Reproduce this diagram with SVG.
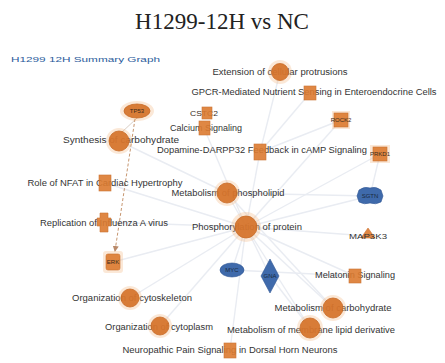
<svg xmlns="http://www.w3.org/2000/svg" width="445" height="363" viewBox="0 0 445 363">
<defs>
<style>
.title{font-family:"Liberation Serif",serif;font-size:23px;fill:#222}
.sub{font-family:"Liberation Sans",Arial,sans-serif;font-size:8px;fill:#2b5c9c}
.lbl{font-family:"Liberation Sans",Arial,sans-serif;font-size:8.5px;fill:#333;text-anchor:middle}
.gene{font-family:"Liberation Sans",Arial,sans-serif;font-size:6px;fill:#3a2a1a;text-anchor:middle}
.edge{stroke:#e9ecf2;stroke-width:1.4;fill:none}
.halo{fill:#f2b37a;opacity:0.3}
.fn{fill:#d6732a;stroke:#c4621a;stroke-width:0.8;opacity:0.92}
.pw{fill:#dc7b30;stroke:#c7651e;stroke-width:0.6;opacity:0.9}
.blue{fill:#3f6aab;stroke:#2f5593;stroke-width:0.6}
</style>
<marker id="ah" markerWidth="6" markerHeight="6" refX="5" refY="3" orient="auto" markerUnits="userSpaceOnUse">
<path d="M0,0 L6,3 L0,6 z" fill="#b98a6a"/>
</marker>
</defs>
<rect width="445" height="363" fill="#fff"/>
<text class="title" x="222" y="29" text-anchor="middle">H1299-12H vs NC</text>
<text class="sub" x="11" y="62" textLength="149" lengthAdjust="spacingAndGlyphs">H1299 12H Summary Graph</text>

<g id="connectors">
<line class="edge" x1="246" y1="227" x2="227" y2="193"/>
<line class="edge" x1="246" y1="227" x2="260" y2="152"/>
<line class="edge" x1="246" y1="227" x2="204" y2="128"/>
<line class="edge" x1="246" y1="227" x2="341" y2="120"/>
<line class="edge" x1="246" y1="227" x2="380" y2="154"/>
<line class="edge" x1="246" y1="227" x2="370" y2="196"/>
<line class="edge" x1="246" y1="227" x2="368" y2="236"/>
<line class="edge" x1="246" y1="227" x2="355" y2="276"/>
<line class="edge" x1="246" y1="227" x2="333" y2="308"/>
<line class="edge" x1="246" y1="227" x2="310" y2="328"/>
<line class="edge" x1="246" y1="227" x2="230" y2="350"/>
<line class="edge" x1="246" y1="227" x2="160" y2="326"/>
<line class="edge" x1="246" y1="227" x2="130" y2="298"/>
<line class="edge" x1="246" y1="227" x2="232" y2="270"/>
<line class="edge" x1="246" y1="227" x2="270" y2="276"/>
<line class="edge" x1="246" y1="227" x2="104" y2="222"/>
<line class="edge" x1="246" y1="227" x2="105" y2="183"/>
<line class="edge" x1="246" y1="227" x2="113" y2="262"/>
<line class="edge" x1="227" y1="193" x2="370" y2="196"/>
<line class="edge" x1="280" y1="72" x2="260" y2="152"/>
<line class="edge" x1="310" y1="93" x2="260" y2="152"/>
<line class="edge" x1="380" y1="154" x2="370" y2="196"/>
<line class="edge" x1="341" y1="120" x2="260" y2="152"/>
<line class="edge" x1="227" y1="193" x2="119" y2="141"/>
<line class="edge" x1="227" y1="193" x2="333" y2="308"/>
<line class="edge" x1="232" y1="270" x2="355" y2="276"/>
<line class="edge" x1="270" y1="276" x2="310" y2="328"/>
<line x1="137" y1="118" x2="121" y2="133" stroke="#cfc2b6" stroke-width="0.8"/>
<line x1="135" y1="119" x2="115" y2="251" stroke="#c08a60" stroke-width="0.9" stroke-dasharray="3,2" marker-end="url(#ah)"/>
</g>

<g id="n-extension"><text class="lbl" x="280" y="75" textLength="135" lengthAdjust="spacingAndGlyphs">Extension of cellular protrusions</text><circle class="halo" cx="280" cy="72" r="12"/><circle class="fn" cx="280" cy="72" r="8.5"/></g>
<g id="n-gpcr"><text class="lbl" x="314" y="95" textLength="245" lengthAdjust="spacingAndGlyphs">GPCR-Mediated Nutrient Sensing in Enteroendocrine Cells</text><rect class="pw" x="304" y="86" width="12" height="14"/></g>
<g id="n-cstc2"><text class="gene" x="204" y="116" style="font-size:7.5px" textLength="28" lengthAdjust="spacingAndGlyphs">CSTC2</text><rect class="pw" x="202" y="107" width="10" height="12"/></g>
<g id="n-tp53"><ellipse class="halo" cx="137" cy="111" rx="17" ry="10"/><ellipse class="fn" cx="137" cy="111" rx="13" ry="7"/><text class="gene" x="137" y="113">TP53</text></g>
<g id="n-rock2"><rect class="halo" x="332" y="111" width="18" height="18"/><rect class="pw" x="334" y="113" width="14" height="14"/><text class="gene" x="341" y="122">ROCK2</text></g>
<g id="n-calcium"><text class="lbl" x="206" y="131" textLength="72" lengthAdjust="spacingAndGlyphs">Calcium Signaling</text><rect class="pw" x="199" y="121" width="11" height="14"/></g>
<g id="n-synth"><text class="lbl" x="121" y="143" textLength="116" lengthAdjust="spacingAndGlyphs">Synthesis of carbohydrate</text><circle class="halo" cx="119" cy="141" r="13"/><circle class="fn" cx="119" cy="141" r="10"/></g>
<g id="n-dopamine"><text class="lbl" x="262" y="153" textLength="210" lengthAdjust="spacingAndGlyphs">Dopamine-DARPP32 Feedback in cAMP Signaling</text><rect class="pw" x="254" y="144" width="12" height="16"/></g>
<g id="n-prkd1"><rect class="halo" x="370" y="145" width="20" height="18"/><rect class="pw" x="373" y="147" width="14" height="14"/><text class="gene" x="380" y="156">PRKD1</text></g>
<g id="n-nfat"><text class="lbl" x="105" y="186" textLength="155" lengthAdjust="spacingAndGlyphs">Role of NFAT in Cardiac Hypertrophy</text><rect class="pw" x="99" y="175" width="12" height="16"/></g>
<g id="n-phospholipid"><text class="lbl" x="228" y="196" textLength="113" lengthAdjust="spacingAndGlyphs">Metabolism of phospholipid</text><circle class="halo" cx="227" cy="193" r="13"/><circle class="fn" cx="227" cy="193" r="10"/></g>
<g id="n-sgtn"><path class="blue" d="M359,190 Q364,186 370,188 Q376,186 381,190 L383,196 L381,202 Q376,205 370,203 Q364,205 359,202 L357,196 Z"/><text class="gene" x="370" y="198" style="fill:#1a2a40">SGTN</text></g>
<g id="n-replication"><text class="lbl" x="104" y="226" textLength="128" lengthAdjust="spacingAndGlyphs">Replication of Influenza A virus</text><path class="pw" d="M100,213 h8 v5 h3 v8 h-3 v6 h-8 v-6 h-3 v-8 h3 z"/></g>
<g id="n-phosprot"><text class="lbl" x="247" y="230" textLength="110" lengthAdjust="spacingAndGlyphs">Phosphorylation of protein</text><circle class="halo" cx="246" cy="227" r="15"/><circle class="fn" cx="246" cy="227" r="11"/></g>
<g id="n-map3k3"><path class="pw" d="M368,228 L375,238 L361,238 Z"/><text class="lbl" x="368" y="239" style="font-size:8px" textLength="38" lengthAdjust="spacingAndGlyphs">MAP3K3</text></g>
<g id="n-erk"><rect class="halo" x="103" y="251" width="20" height="22" rx="3"/><rect class="pw" x="106" y="254" width="14" height="16" rx="2"/><text class="gene" x="113" y="264">ERK</text></g>
<g id="n-myc"><ellipse class="blue" cx="232" cy="270" rx="12" ry="7"/><text class="gene" x="232" y="272" style="fill:#1a2a40">MYC</text></g>
<g id="n-gna"><path class="blue" d="M270,259 L279,276 L270,293 L261,276 Z"/><text class="gene" x="270" y="278" style="fill:#1a2a40">GNA</text></g>
<g id="n-melatonin"><text class="lbl" x="355" y="278" textLength="80" lengthAdjust="spacingAndGlyphs">Melatonin Signaling</text><rect class="pw" x="349" y="269" width="12" height="14"/></g>
<g id="n-cytoskeleton"><text class="lbl" x="132" y="301" textLength="120" lengthAdjust="spacingAndGlyphs">Organization of cytoskeleton</text><circle class="halo" cx="130" cy="298" r="12"/><circle class="fn" cx="130" cy="298" r="9"/></g>
<g id="n-metcarb"><text class="lbl" x="333" y="311" textLength="117" lengthAdjust="spacingAndGlyphs">Metabolism of carbohydrate</text><circle class="halo" cx="333" cy="308" r="13"/><circle class="fn" cx="333" cy="308" r="10"/></g>
<g id="n-cytoplasm"><text class="lbl" x="159" y="330" textLength="108" lengthAdjust="spacingAndGlyphs">Organization of cytoplasm</text><circle class="halo" cx="160" cy="326" r="12"/><circle class="fn" cx="160" cy="326" r="9"/></g>
<g id="n-membrane"><text class="lbl" x="311" y="333" textLength="168" lengthAdjust="spacingAndGlyphs">Metabolism of membrane lipid derivative</text><circle class="halo" cx="310" cy="328" r="13"/><circle class="fn" cx="310" cy="328" r="10"/></g>
<g id="n-neuropathic"><text class="lbl" x="230" y="353" textLength="215" lengthAdjust="spacingAndGlyphs">Neuropathic Pain Signaling in Dorsal Horn Neurons</text><rect class="pw" x="224" y="343" width="12" height="15"/></g>
</svg>
